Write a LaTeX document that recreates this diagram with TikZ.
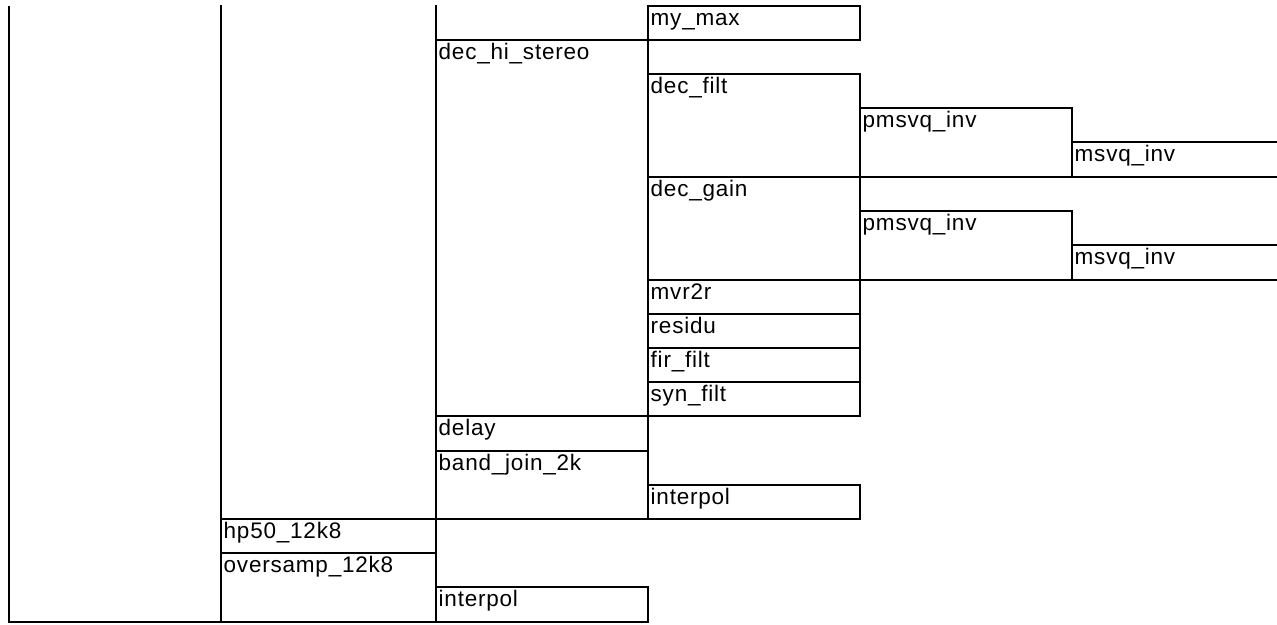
\documentclass[tikz,border=0pt]{standalone}
\usepackage{fontspec}
\setmainfont{Liberation Sans}[LetterSpace=3.5]
\begin{document}
\begin{tikzpicture}[x=1pt,y=-1pt,
  grid/.style={line width=2pt, line cap=rect, black},
  lbl/.style={anchor=base west, inner sep=0pt, font=\fontsize{22.5}{22.5}\selectfont}]
\useasboundingbox (0,0) rectangle (1277,624);
% vertical lines
\draw[grid] (9,7) -- (9,622);
\draw[grid] (221,6) -- (221,622);
\draw[grid] (436,6) -- (436,622);
\draw[grid] (648,6) -- (648,519);
\draw[grid] (648,587) -- (648,622);
\draw[grid] (860,6) -- (860,40);
\draw[grid] (860,74) -- (860,416);
\draw[grid] (860,485) -- (860,519);
\draw[grid] (1072,108) -- (1072,177);
\draw[grid] (1072,211) -- (1072,280);
% horizontal lines
\draw[grid] (648,6) -- (860,6);
\draw[grid] (436,40) -- (860,40);
\draw[grid] (648,74) -- (860,74);
\draw[grid] (860,108) -- (1072,108);
\draw[grid] (1072,142) -- (1280,142);
\draw[grid] (648,177) -- (1280,177);
\draw[grid] (860,211) -- (1072,211);
\draw[grid] (1072,245) -- (1280,245);
\draw[grid] (648,280) -- (1280,280);
\draw[grid] (648,314) -- (860,314);
\draw[grid] (648,348) -- (860,348);
\draw[grid] (648,382) -- (860,382);
\draw[grid] (436,416) -- (860,416);
\draw[grid] (436,451) -- (648,451);
\draw[grid] (648,485) -- (860,485);
\draw[grid] (221,519) -- (860,519);
\draw[grid] (221,553) -- (436,553);
\draw[grid] (436,587) -- (648,587);
\draw[grid] (9,622) -- (648,622);
% labels
\node[lbl] (mymax) at (650.5,25) {my\_max};
\node[lbl] (dechi) at (438.5,59) {dec\_hi\_stereo};
\node[lbl] (decfilt) at (650.5,93) {dec\_filt};
\node[lbl] (pms1) at (862.5,127) {pmsvq\_inv};
\node[lbl] (msv1) at (1074.5,161.5) {msvq\_inv};
\node[lbl] (decgain) at (650.5,196) {dec\_gain};
\node[lbl] (pms2) at (862.5,230) {pmsvq\_inv};
\node[lbl] (msv2) at (1074.5,264.5) {msvq\_inv};
\node[lbl] (mvr) at (650.5,299) {mvr2r};
\node[lbl] (resid) at (650.5,333) {residu};
\node[lbl] (fir) at (650.5,367) {fir\_filt};
\node[lbl] (syn) at (650.5,401) {syn\_filt};
\node[lbl] (delay) at (438.5,435) {delay};
\node[lbl] (band) at (438.5,470) {band\_join\_2k};
\node[lbl] (interA) at (650.5,504) {interpol};
\node[lbl] (hp) at (223.5,538) {hp50\_12k8};
\node[lbl] (over) at (223.5,572) {oversamp\_12k8};
\node[lbl] (interB) at (438.5,606.5) {interpol};
\end{tikzpicture}
\end{document}
